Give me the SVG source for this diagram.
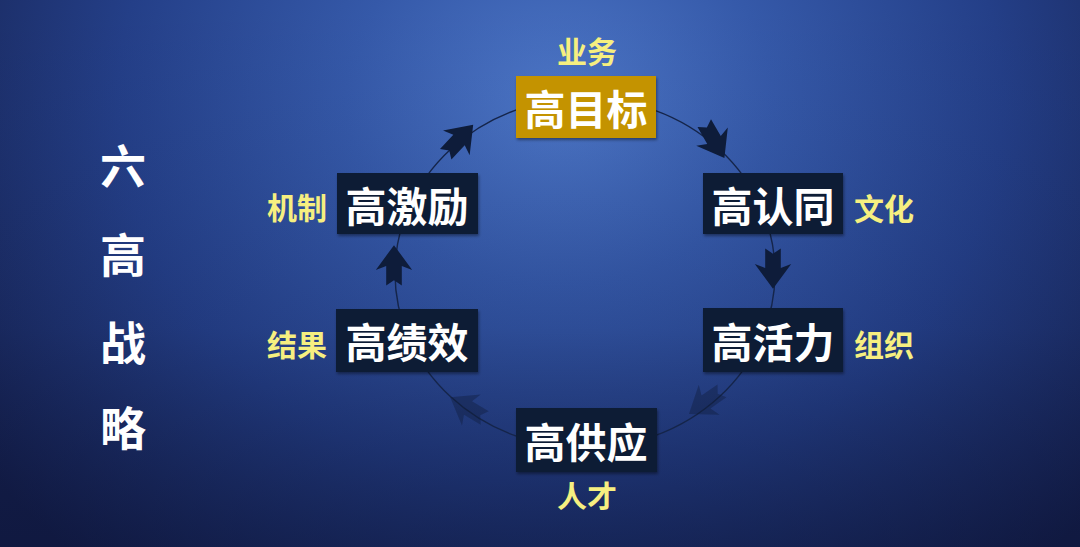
<svg xmlns="http://www.w3.org/2000/svg" width="1080" height="547" viewBox="0 0 1080 547">
  <defs>
    <radialGradient id="bg" cx="560" cy="100" r="620" gradientUnits="userSpaceOnUse" gradientTransform="translate(560 100) scale(1.15 1) translate(-560 -100)">
      <stop offset="0" stop-color="#4d77c8"/>
      <stop offset="0.3" stop-color="#3559a9"/>
      <stop offset="0.62" stop-color="#243f88"/>
      <stop offset="1" stop-color="#15204e"/>
    </radialGradient>
    <linearGradient id="shade" x1="0" y1="0" x2="0" y2="1">
      <stop offset="0" stop-color="#0a1030" stop-opacity="0"/>
      <stop offset="0.6" stop-color="#0a1030" stop-opacity="0.1"/>
      <stop offset="1" stop-color="#0a1030" stop-opacity="0.45"/>
    </linearGradient>
    <filter id="sh" x="-10%" y="-10%" width="120%" height="130%">
      <feDropShadow dx="1" dy="2" stdDeviation="1.5" flood-color="#000" flood-opacity="0.4"/>
    </filter>
    <path id="arr" d="M16,0 L-3,-14 L0,-6 L-15,-6 L-11,0 L-15,6 L0,6 L-3,14 Z"/>
  </defs>
  <style>
    .box { fill: #0c1a35; filter: url(#sh); }
    .gold { fill: #c49300; filter: url(#sh); }
    .node { font-family: "Noto Sans CJK SC", "Noto Sans", sans-serif; font-weight: 700; font-size: 41px; fill: #ffffff; text-anchor: middle; dominant-baseline: central; }
    .lbl { font-family: "Noto Sans CJK SC", "Noto Sans", sans-serif; font-weight: 700; font-size: 30px; fill: #f6ef80; text-anchor: middle; dominant-baseline: central; }
    .title { font-family: "Noto Sans CJK SC", "Noto Sans", sans-serif; font-weight: 700; font-size: 46px; fill: #ffffff; text-anchor: middle; dominant-baseline: central; }
    .ring { fill: none; stroke: #15254a; stroke-width: 1.4; }
    .ah { fill: #0e1c3a; }
    .ahf { fill: #0e1c3a; opacity: 0.4; }
  </style>
  <rect width="1080" height="547" fill="url(#bg)"/>
  <rect width="1080" height="547" fill="url(#shade)"/>

  <g id="connectors">
    <ellipse class="ring" cx="585" cy="273" rx="190" ry="175"/>
    <use href="#arr" class="ah" transform="translate(459,140) rotate(-47) scale(1.3)"/>
    <use href="#arr" class="ah" transform="translate(714,140) rotate(60) scale(1.3)"/>
    <use href="#arr" class="ah" transform="translate(773,268) rotate(90) scale(1.3)"/>
    <use href="#arr" class="ahf" transform="translate(706,402) rotate(145) scale(1.3)"/>
    <use href="#arr" class="ahf" transform="translate(468,408) rotate(211) scale(1.3)"/>
    <use href="#arr" class="ah" transform="translate(394,266) rotate(-90) scale(1.3)"/>
  </g>

  <g id="title">
    <text class="title" x="123" y="163">六</text>
    <text class="title" x="123" y="252">高</text>
    <text class="title" x="123" y="340">战</text>
    <text class="title" x="123" y="425">略</text>
  </g>

  <g id="node-mubiao">
    <rect class="gold" x="516" y="76" width="140" height="62"/>
    <text class="node" x="586" y="107">高目标</text>
    <text class="lbl" x="587" y="50">业务</text>
  </g>
  <g id="node-rentong">
    <rect class="box" x="703" y="173" width="140" height="61"/>
    <text class="node" x="773" y="204">高认同</text>
    <text class="lbl" x="884" y="207">文化</text>
  </g>
  <g id="node-huoli">
    <rect class="box" x="703" y="308" width="140" height="64"/>
    <text class="node" x="773" y="340">高活力</text>
    <text class="lbl" x="884" y="343">组织</text>
  </g>
  <g id="node-gongying">
    <rect class="box" x="516" y="408" width="141" height="64"/>
    <text class="node" x="586" y="440">高供应</text>
    <text class="lbl" x="587" y="494">人才</text>
  </g>
  <g id="node-jixiao">
    <rect class="box" x="336" y="309" width="142" height="63"/>
    <text class="node" x="407" y="340">高绩效</text>
    <text class="lbl" x="297" y="343">结果</text>
  </g>
  <g id="node-jili">
    <rect class="box" x="337" y="173" width="141" height="61"/>
    <text class="node" x="407" y="204">高激励</text>
    <text class="lbl" x="297" y="206">机制</text>
  </g>
</svg>
